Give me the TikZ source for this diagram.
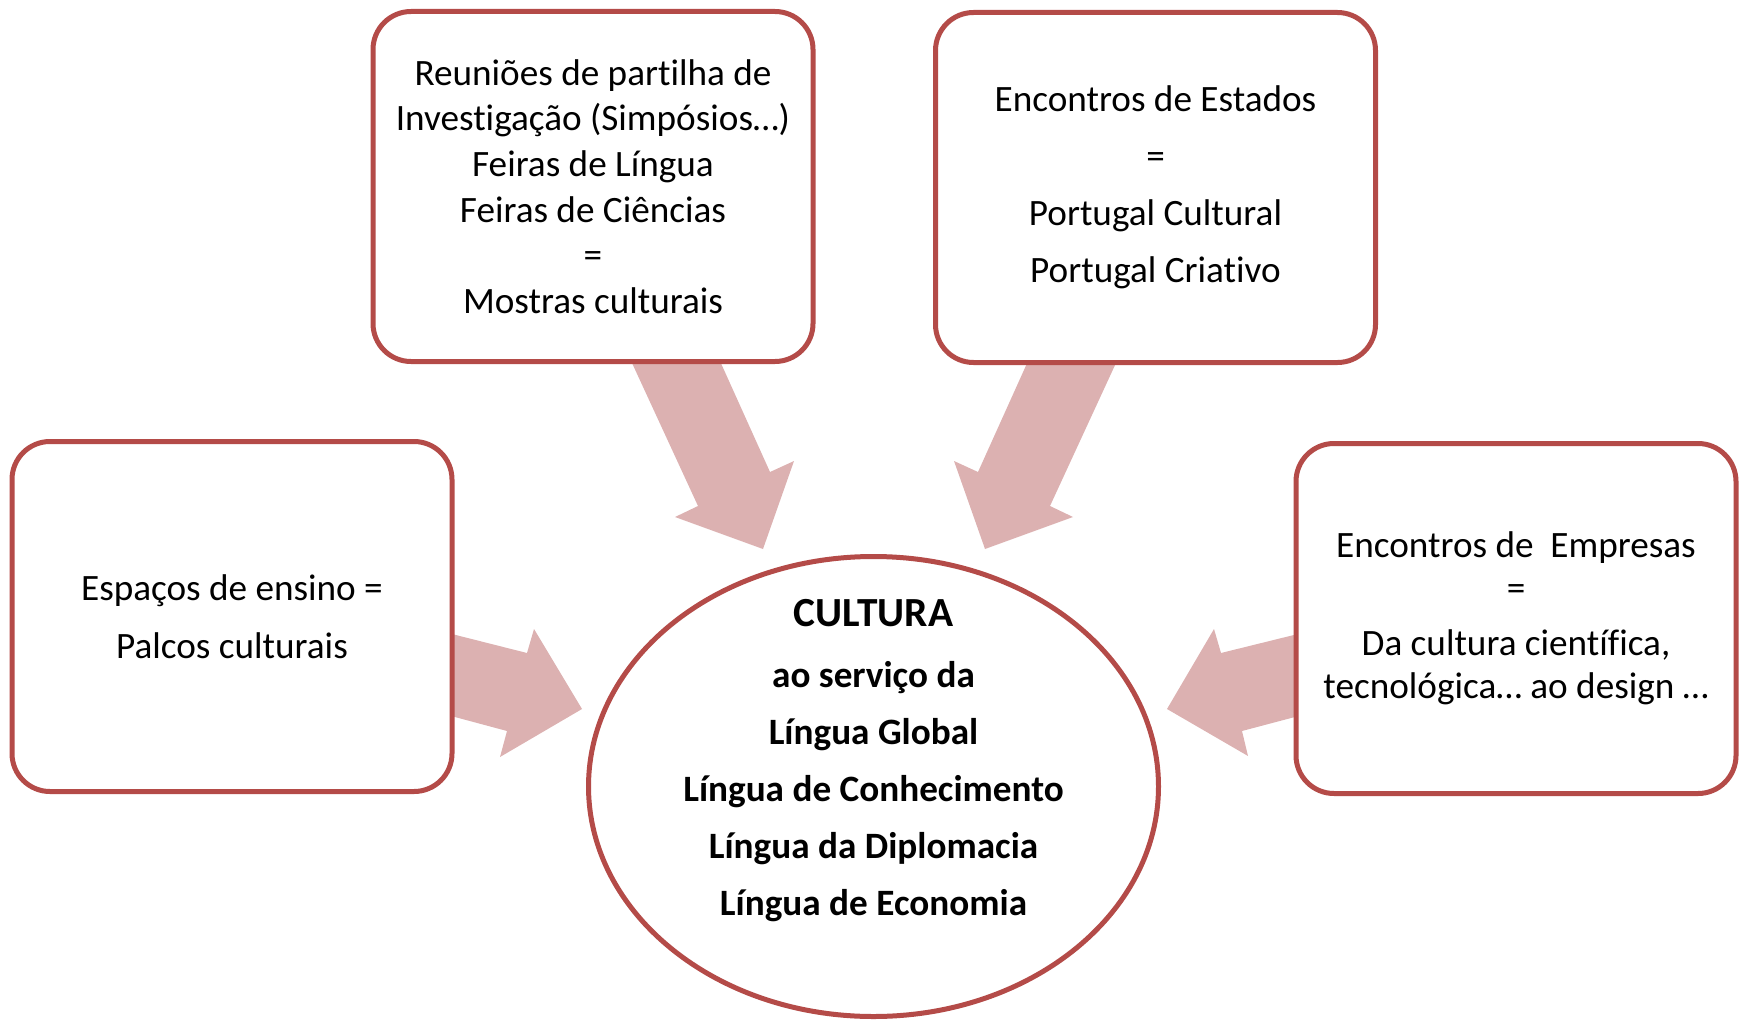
\documentclass[tikz,border=0pt]{standalone}
\usepackage{fontspec}
\setmainfont{Carlito}[Ligatures=NoCommon]
\usetikzlibrary{shapes.geometric}
\definecolor{boxred}{RGB}{180,75,72}
\definecolor{arrowpink}{RGB}{220,177,177}
\begin{document}
\begin{tikzpicture}[x=0.5pt,y=-0.5pt,
  box/.style={draw=boxred, line width=2.5pt, fill=white, rounded corners=19pt,
    minimum width=220pt, minimum height=175pt, align=center, inner sep=0pt},
  blockarrow/.style={fill=arrowpink, draw=none},
  txt/.style={align=center, inner sep=0pt}]
\useasboundingbox (0,0) rectangle (1744,1022);
% block arrows (drawn first, boxes cover their tails)
\fill[blockarrow] (626,350) -- (715,350) -- (770,472) -- (794,461) -- (763,549) -- (675,517) -- (698,506) -- cycle;
\fill[blockarrow] (1122,350) -- (1033,350) -- (978,472) -- (954,461) -- (985,549) -- (1073,517) -- (1050,506) -- cycle;
\fill[blockarrow] (440,631) -- (527,653) -- (534,629) -- (582,709) -- (500,757) -- (507,731) -- (440,713) -- cycle;
\fill[blockarrow] (1310,631) -- (1221,653) -- (1214,629) -- (1167,709) -- (1248,756) -- (1242,731) -- (1310,713) -- cycle;
% boxes
\node[box, font=\fontsize{18.6}{22.8}\selectfont] (tl) at (593,186.5)
  {Reuniões de partilha de\\Investigação (Simpósios…)\\Feiras de Língua\\Feiras de Ciências\\=\\Mostras culturais};
\node[box, font=\fontsize{18.6}{28.5}\selectfont] (tr) at (1155.5,187.5)
  {Encontros de Estados\\=\\Portugal Cultural\\Portugal Criativo};
\node[box, font=\fontsize{18.6}{29}\selectfont] (lb) at (232,616.5)
  {Espaços de ensino =\\Palcos culturais};
\node[box, font=\fontsize{18.6}{21.5}\selectfont] (rb) at (1516,618.5)
  {Encontros de\ \ Empresas\\=\\[6pt]Da cultura científica,\\tecnológica… ao design …};
% central ellipse
\node[draw=boxred, line width=2.5pt, fill=white, ellipse, minimum width=285pt, minimum height=230pt, inner sep=0pt] (c) at (873.5,786.5) {};
\node[txt, font=\bfseries\fontsize{18.6}{28.5}\selectfont] (ct) at (873.5,760.5)
  {{\fontsize{20.7}{28.5}\selectfont CULTURA}\\[2pt]ao serviço da\\Língua Global\\Língua de Conhecimento\\Língua da Diplomacia\\Língua de Economia};
\end{tikzpicture}
\end{document}
